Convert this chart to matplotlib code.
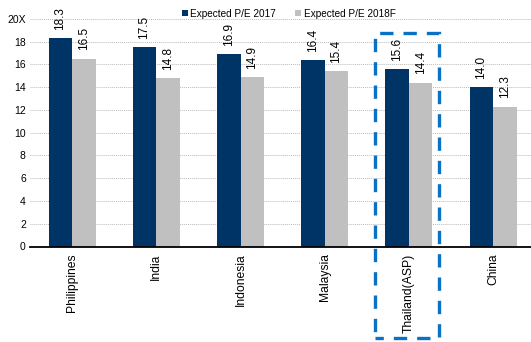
import matplotlib
matplotlib.use('Agg')
import matplotlib.pyplot as plt
import matplotlib.transforms as mtrans
from matplotlib.patches import Rectangle
import numpy as np

plt.rcParams['font.family'] = ['Liberation Sans', 'DejaVu Sans']

# data
countries = ['Philippines', 'India', 'Indonesia', 'Malaysia', 'Thailand(ASP)', 'China']
pe_2017 = [18.3, 17.5, 16.9, 16.4, 15.6, 14.0]
pe_2018f = [16.5, 14.8, 14.9, 15.4, 14.4, 12.3]
yticks = [0, 2, 4, 6, 8, 10, 12, 14, 16, 18, 20]
ytick_labels = ['0', '2', '4', '6', '8', '10', '12', '14', '16', '18', '20X']

navy = '#003366'
grey = '#c0c0c0'
blue = '#0a72c4'

fig = plt.figure(figsize=(5.31, 3.42), dpi=100)
ax = fig.add_axes([30/531, 1-246.5/342, 1-30/531, 227.5/342])

x = np.arange(len(countries))
w = 0.28
b1 = ax.bar(x - w/2, pe_2017, w, color=navy, label='Expected P/E 2017', zorder=3)
b2 = ax.bar(x + w/2, pe_2018f, w, color=grey, label='Expected P/E 2018F', zorder=3)

for bars in (b1, b2):
    for r in bars:
        ax.annotate('%.1f' % r.get_height(), (r.get_x() + r.get_width()/2, r.get_height()),
                    xytext=(0, 6), textcoords='offset points', rotation=90,
                    ha='center', va='bottom', fontsize=8.5, color='black')

ax.set_xlim(-0.5, 5.45)
ax.set_ylim(0, 20)
ax.set_yticks(yticks)
ax.set_yticklabels(ytick_labels, fontsize=7.5)
ax.set_xticks(x)
ax.set_xticklabels(countries, rotation=90, fontsize=8.7)
ax.tick_params(length=0, pad=5)
ax.tick_params(axis='y', pad=3)

for s in ['top', 'right', 'left']:
    ax.spines[s].set_visible(False)
ax.spines['bottom'].set_linewidth(1.3)
ax.spines['bottom'].set_zorder(4)
ax.yaxis.grid(True, linestyle=(0, (1, 1)), color='#bbbbbb', linewidth=0.7, zorder=0)

# dashed box around Thailand
trans = mtrans.blended_transform_factory(ax.transData, fig.transFigure)
box = Rectangle((4 - 0.40, 1-338/342), 0.76, (338-33)/342, transform=trans,
                fill=False, edgecolor=blue, linewidth=2.4, linestyle=(1.5, (4, 3)),
                clip_on=False, zorder=5)
fig.add_artist(box)

ax.legend(loc='upper left', bbox_to_anchor=(176/531, 1-3/342), bbox_transform=fig.transFigure,
          ncol=2, frameon=False, fontsize=7.2, handlelength=0.55, handleheight=0.55,
          handletextpad=0.3, columnspacing=1.9, borderaxespad=0.2)

fig.savefig('out.png', dpi=100)
